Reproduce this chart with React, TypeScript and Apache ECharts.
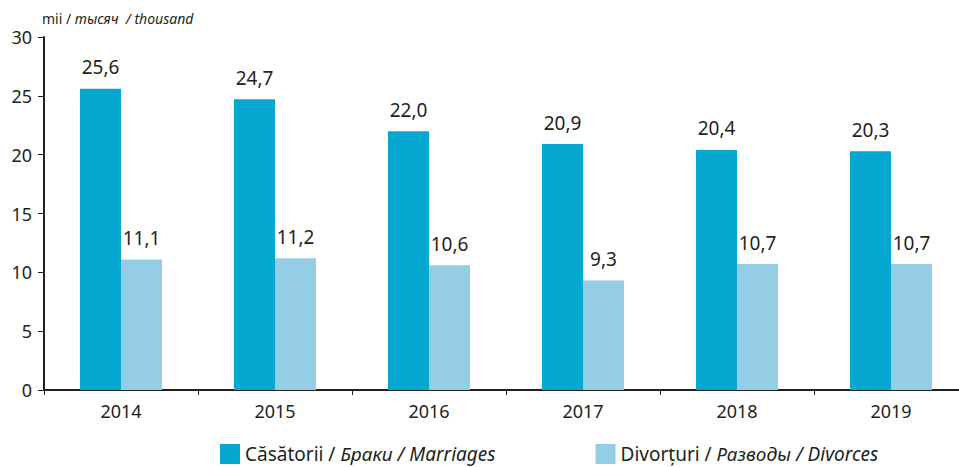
import React, { useEffect, useRef } from "react";
import * as echarts from "echarts";

const years = ["2014", "2015", "2016", "2017", "2018", "2019"];
const marriages = [25.6, 24.7, 22.0, 20.9, 20.4, 20.3];
const divorces = [11.1, 11.2, 10.6, 9.3, 10.7, 10.7];
const yTicks = { min: 0, max: 30, interval: 5 };

const FONT = "'Noto Sans', 'Open Sans', sans-serif";
const TXT = "#231F20";

export default function App() {
  const ref = useRef<HTMLDivElement>(null);
  useEffect(() => {
    if (!ref.current) return;
    const chart = echarts.init(ref.current, null, { renderer: "svg" });
    const fmt = (p: any) => Number(p.value).toFixed(1).replace(".", ",");
    chart.setOption({
      animation: false,
      textStyle: { fontFamily: FONT, color: TXT },
      grid: { left: 44, top: 37, bottom: 77, right: 2 },
      graphic: [
        {
          type: "text",
          left: 42,
          top: 11,
          style: {
            text: "{n|mii / }{i|тысяч  / thousand}",
            rich: {
              n: { fontFamily: FONT, fontSize: 14, fill: TXT },
              i: { fontFamily: FONT, fontSize: 14, fontStyle: "italic", fill: TXT },
            },
          },
        },
      ],
      legend: {
        top: 444,
        left: 220,
        itemWidth: 20,
        itemHeight: 20,
        itemGap: 100,
        padding: 0,
        icon: "rect",
        data: ["m", "d"],
        formatter: (name: string) =>
          name === "m"
            ? "{n|Căsătorii / }{i|Браки / Marriages}"
            : "{n|Divorțuri / }{i|Разводы / Divorces}",
        textStyle: {
          rich: {
            n: { fontFamily: FONT, fontSize: 19, lineHeight: 20, color: TXT },
            i: { fontFamily: FONT, fontSize: 19, lineHeight: 20, fontStyle: "italic", color: TXT },
          },
        },
      },
      xAxis: {
        type: "category",
        data: years,
        axisLine: { lineStyle: { color: TXT, width: 2 } },
        axisTick: { show: true, length: 5, lineStyle: { color: TXT } },
        axisLabel: { fontFamily: FONT, fontSize: 18, color: TXT, margin: 12 },
      },
      yAxis: {
        type: "value",
        min: yTicks.min,
        max: yTicks.max,
        interval: yTicks.interval,
        splitLine: { show: false },
        axisLine: { show: true, lineStyle: { color: TXT, width: 2 } },
        axisTick: { show: true, length: 6, lineStyle: { color: TXT } },
        axisLabel: { fontFamily: FONT, fontSize: 18, color: TXT, margin: 12 },
      },
      series: [
        {
          name: "m",
          type: "bar",
          data: marriages,
          barWidth: 41,
          barGap: "0%",
          itemStyle: { color: "#05A8D1" },
          label: {
            show: true,
            position: "top",
            distance: 12,
            formatter: fmt,
            fontFamily: FONT,
            fontSize: 19,
            color: TXT,
          },
        },
        {
          name: "d",
          type: "bar",
          data: divorces,
          barWidth: 41,
          barGap: "0%",
          itemStyle: { color: "#95CDE6" },
          label: {
            show: true,
            position: "top",
            distance: 12,
            formatter: fmt,
            fontFamily: FONT,
            fontSize: 19,
            color: TXT,
          },
        },
      ],
    });
    return () => chart.dispose();
  }, []);
  return (
    <div
      style={{
        position: "fixed",
        left: 0,
        top: 0,
        width: 959,
        height: 467,
        overflow: "hidden",
        background: "#fff",
      }}
    >
      <div ref={ref} style={{ width: 970, height: 467 }} />
    </div>
  );
}
